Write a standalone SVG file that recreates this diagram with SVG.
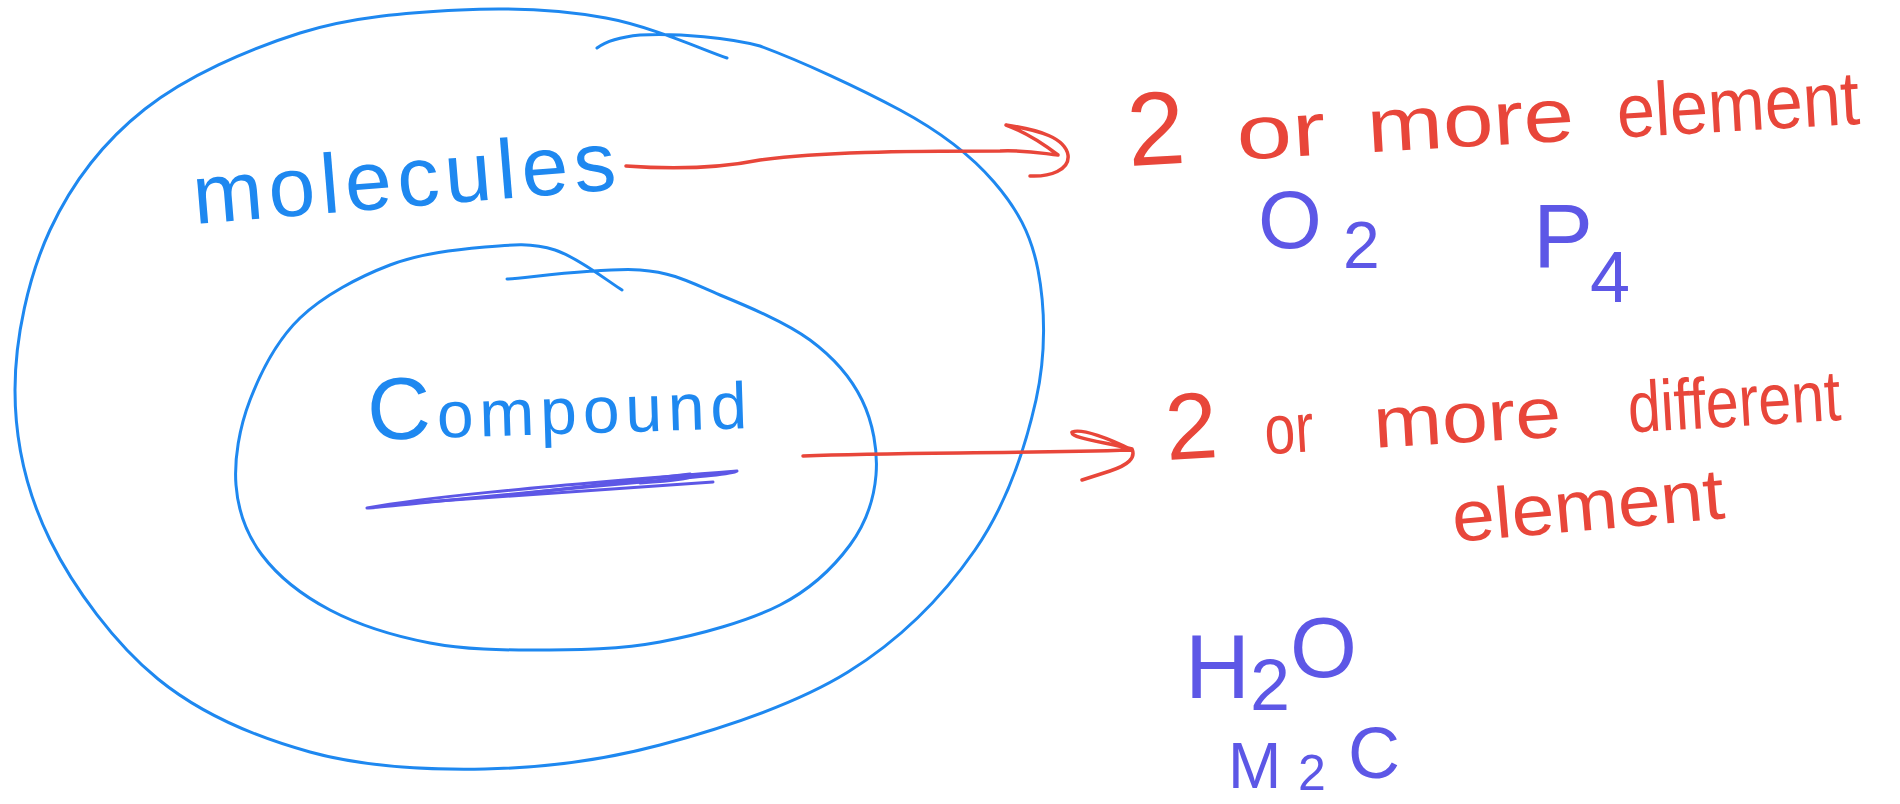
<svg xmlns="http://www.w3.org/2000/svg" width="1900" height="804" viewBox="0 0 1900 804">
<style>
.b{fill:none;stroke:#1e88f0;stroke-width:3;stroke-linecap:round;stroke-linejoin:round}
.r{fill:none;stroke:#e8463a;stroke-width:3.5;stroke-linecap:round;stroke-linejoin:round}
.p{fill:none;stroke:#5d57e6;stroke-width:3;stroke-linecap:round;stroke-linejoin:round}
text{font-family:"Liberation Sans",Arial,sans-serif}
.tb{fill:#1e88f0}
.tr{fill:#e8463a}
.tp{fill:#5d57e6}
</style>
<rect width="1900" height="804" fill="#ffffff"/>
<g id="molecules">
<path class="b" d="M727,58 C706.8,51.3 650.5,26 606,18 C561.5,10 511,7.5 460,10 C409,12.5 352.5,16.5 300,33 C247.5,49.5 186.7,76.2 145,109 C103.3,141.8 71.7,183.2 50,230 C28.3,276.8 15,338.3 15,390 C15,441.7 26.2,491.8 50,540 C73.8,588.2 114.7,643.7 158,679 C201.3,714.3 255.5,737 310,752 C364.5,767 426.7,770.2 485,769 C543.3,767.8 599.5,761.2 660,745 C720.5,728.8 795.5,704.5 848,672 C900.5,639.5 943.7,595.3 975,550 C1006.3,504.7 1025.5,446.7 1036,400 C1046.5,353.3 1045,306.3 1038,270 C1031,233.7 1017,208.7 994,182 C971,155.3 940.5,131.8 900,110 C859.5,88.2 801.5,61.3 760,46 C730,38 680,33 640,35 C620,37 605,42 597,48"/>
<text class="tb" transform="rotate(-4.7 195 224)" x="195" y="224" font-size="84" textLength="424" lengthAdjust="spacing">molecules</text>
</g>
<g id="compound">
<path class="b" d="M622,290 C610.8,283.3 577.8,257.2 555,250 C532.2,242.8 512.5,244.5 485,247 C457.5,249.5 420.8,253.2 390,265 C359.2,276.8 323.3,295.5 300,318 C276.7,340.5 260.7,372.2 250,400 C239.3,427.8 234,459.2 236,485 C238,510.8 246.3,534.2 262,555 C277.7,575.8 302,595.3 330,610 C358,624.7 395,636.3 430,643 C465,649.7 501.7,650.2 540,650 C578.3,649.8 620,649.5 660,642 C700,634.5 748.3,621.2 780,605 C811.7,588.8 834,566.7 850,545 C866,523.3 874,499.2 876,475 C878,450.8 873,422.5 862,400 C851,377.5 833.7,357.5 810,340 C786.3,322.5 748.3,306.7 720,295 C691.7,283.3 675.5,272.7 640,270 C604.5,267.3 529.2,277.5 507,279"/>
<text class="tb" transform="rotate(-1.8 368 440)" x="368" y="440" textLength="380" lengthAdjust="spacing"><tspan font-size="88">C</tspan><tspan font-size="66">ompound</tspan></text>
<path class="p" d="M367,508 C420,498 520,488 737,471 C730,476 650,480 420,503 C390,506 372,508 367,508"/>
<path class="p" d="M410,503 L713,482"/>
<path class="p" d="M520,494 L690,474 C700,478 670,481 640,483"/>
</g>
<g id="molecule-definition">
<text class="tr" transform="translate(1129,166) rotate(-3.3)"><tspan x="0" y="0" font-size="104">2</tspan> <tspan x="109" y="0" font-size="76" textLength="89" lengthAdjust="spacingAndGlyphs">or</tspan> <tspan x="240" y="0" font-size="76" textLength="207" lengthAdjust="spacingAndGlyphs">more</tspan> <tspan x="490" y="0" font-size="76" textLength="243" lengthAdjust="spacingAndGlyphs">element</tspan></text>
</g>
<g id="o2">
<text class="tp" x="1258" y="248"><tspan font-size="82">O</tspan><tspan x="1343" y="268" font-size="66">2</tspan></text>
</g>
<g id="p4">
<text class="tp" x="1533" y="267"><tspan font-size="90">P</tspan><tspan x="1590" y="302" font-size="72">4</tspan></text>
</g>
<g id="compound-definition">
<text class="tr" transform="translate(1167,460) rotate(-3.4)"><tspan x="0" y="0" font-size="94">2</tspan> <tspan x="99" y="0" font-size="70" textLength="49" lengthAdjust="spacingAndGlyphs">or</tspan> <tspan x="208" y="0" font-size="72" textLength="188" lengthAdjust="spacingAndGlyphs">more</tspan> <tspan x="463" y="0" font-size="72" textLength="213" lengthAdjust="spacingAndGlyphs">different</tspan></text>
<text class="tr" transform="rotate(-5 1454 542)" x="1454" y="542" font-size="72" textLength="273" lengthAdjust="spacingAndGlyphs">element</text>
</g>
<g id="h2o">
<text class="tp"><tspan x="1185" y="698" font-size="90">H</tspan><tspan x="1250" y="710" font-size="72">2</tspan><tspan x="1290" y="677" font-size="86">O</tspan></text>
</g>
<g id="m2c">
<text class="tp"><tspan x="1228" y="788" font-size="64">M</tspan><tspan x="1298" y="790" font-size="50">2</tspan><tspan x="1348" y="778" font-size="72">C</tspan></text>
</g>
<g id="connectors">
<path class="r" d="M626,166 C680,170 720,168 760,160 C820,152 900,151 1000,151 C1030,150 1045,154 1058,155 C1045,145 1025,132 1006,125 C1040,130 1065,138 1068,155 C1070,170 1050,177 1030,176"/>
<path class="r" d="M803,456 C900,452 1000,454 1132,450 C1110,439 1082,428 1072,432 C1070,438 1105,442 1132,449 C1136,458 1128,465 1110,471 L1082,480"/>
</g>
</svg>
